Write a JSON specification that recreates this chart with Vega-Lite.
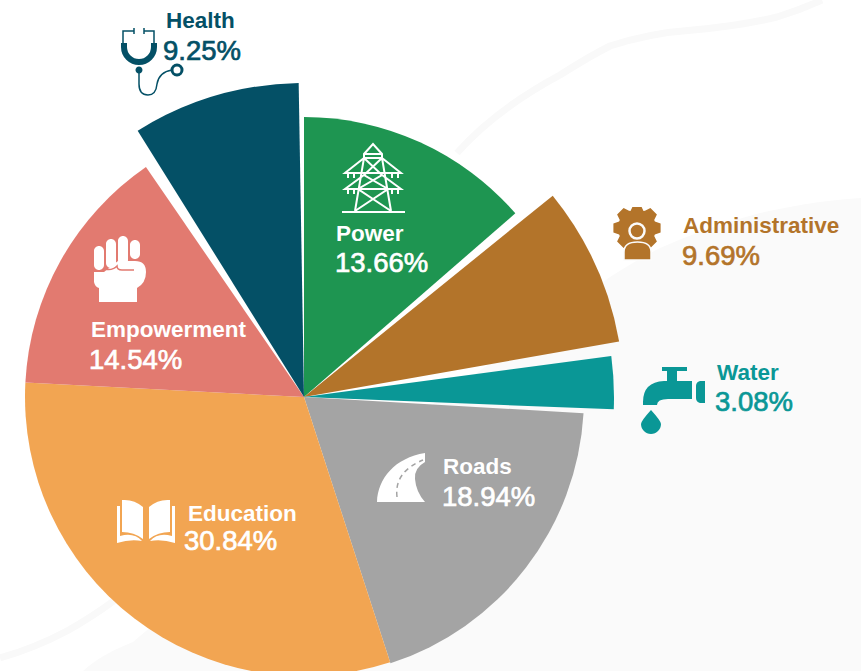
{"$schema":"https://vega.github.io/schema/vega-lite/v6.json","width":861,"height":671,"padding":0,"autosize":"none","background":"#ffffff","config":{"view":{"stroke":null},"text":{"baseline":"alphabetic"}},
"data":{"values":[{"order":1,"name":"Power","share":13.66},{"order":2,"name":"Administrative","share":9.69},{"order":3,"name":"Water","share":3.08},{"order":4,"name":"Roads","share":18.94},{"order":5,"name":"Education","share":30.84},{"order":6,"name":"Empowerment","share":14.54},{"order":7,"name":"Health","share":9.25}]},
"transform":[{"stack":"share","sort":[{"field":"order"}],"as":["s0","s1"]},{"calculate":"format(datum.share,'.2f')+'%'","as":"pct"}],
"encoding":{},
"layer":[
{"transform":[{"filter":"datum.order==1"}],"mark":{"type":"point","x":0,"y":0,"size":4,"filled":true,"opacity":1,"fill":"#fafafa","strokeWidth":0,"shape":"M83 671 Q100 655 133 642 L300 500 L610 277 Q640 258 660 248 Q710 226 760 213 Q820 200 861 198 V671 Z"}},
{"transform":[{"filter":"datum.order==1"}],"mark":{"type":"point","x":0,"y":0,"size":4,"filled":false,"opacity":1,"stroke":"#f9f9f9","strokeWidth":7,"shape":"M457 153 Q495 110 560 75 Q590 56 610 46 Q650 33 693 30 Q740 26 777 17 Q800 10 822 0 M0 658 Q35 648 67 631 Q92 617 115 600"}},
{"transform":[{"filter":"datum.name=='Power'"}],"mark":{"type":"arc","x":304,"y":397,"outerRadius":280,"innerRadius":0,"fill":"#1e9551","thetaOffset":0,"theta2Offset":-0.003},"encoding":{"theta":{"field":"s0","type":"quantitative","scale":{"domain":[0,100],"range":[0,6.283185]}},"theta2":{"field":"s1"}}},
{"transform":[{"filter":"datum.name=='Administrative'"}],"mark":{"type":"arc","x":304,"y":397,"outerRadius":320,"innerRadius":0,"fill":"#b3742a","thetaOffset":0.032,"theta2Offset":-0.071},"encoding":{"theta":{"field":"s0","type":"quantitative","scale":{"domain":[0,100],"range":[0,6.283185]}},"theta2":{"field":"s1"}}},
{"transform":[{"filter":"datum.name=='Water'"}],"mark":{"type":"arc","x":304,"y":397,"outerRadius":310,"innerRadius":0,"fill":"#0a9796","thetaOffset":-0.029,"theta2Offset":-0.05},"encoding":{"theta":{"field":"s0","type":"quantitative","scale":{"domain":[0,100],"range":[0,6.283185]}},"theta2":{"field":"s1"}}},
{"transform":[{"filter":"datum.name=='Roads'"}],"mark":{"type":"arc","x":304,"y":397,"outerRadius":280,"innerRadius":0,"fill":"#a4a4a4","thetaOffset":-0.032,"theta2Offset":-0.023},"encoding":{"theta":{"field":"s0","type":"quantitative","scale":{"domain":[0,100],"range":[0,6.283185]}},"theta2":{"field":"s1"}}},
{"transform":[{"filter":"datum.name=='Education'"}],"mark":{"type":"arc","x":304,"y":397,"outerRadius":279,"innerRadius":0,"fill":"#f2a552","thetaOffset":-0.023,"theta2Offset":-0.024},"encoding":{"theta":{"field":"s0","type":"quantitative","scale":{"domain":[0,100],"range":[0,6.283185]}},"theta2":{"field":"s1"}}},
{"transform":[{"filter":"datum.name=='Empowerment'"}],"mark":{"type":"arc","x":304,"y":397,"outerRadius":279,"innerRadius":0,"fill":"#e27a70","thetaOffset":-0.024,"theta2Offset":-0.021},"encoding":{"theta":{"field":"s0","type":"quantitative","scale":{"domain":[0,100],"range":[0,6.283185]}},"theta2":{"field":"s1"}}},
{"transform":[{"filter":"datum.name=='Health'"}],"mark":{"type":"arc","x":304,"y":397,"outerRadius":314,"innerRadius":0,"fill":"#045066","thetaOffset":0.023,"theta2Offset":-0.017},"encoding":{"theta":{"field":"s0","type":"quantitative","scale":{"domain":[0,100],"range":[0,6.283185]}},"theta2":{"field":"s1"}}},

{"transform":[{"filter":"datum.name=='Health'"}],"mark":{"type":"point","x":0,"y":0,"size":4,"filled":false,"opacity":1,"stroke":"#045066","strokeWidth":1.5,"shape":"M134 28 V34 M134 31 H123 V43 M144 28 V34 M144 31 H154 V43 M139 70 V84 Q139 95 148 95 Q156 95 157 84 Q159 72 172 70"}},
{"transform":[{"filter":"datum.name=='Health'"}],"mark":{"type":"point","x":0,"y":0,"size":4,"filled":false,"opacity":1,"stroke":"#045066","strokeWidth":6,"shape":"M124 43 V47 A15 15 0 0 0 154 47 V43"}},
{"transform":[{"filter":"datum.name=='Health'"}],"mark":{"type":"point","x":0,"y":0,"size":4,"filled":true,"opacity":1,"fill":"#045066","strokeWidth":0,"shape":"M135.5 70 A3.5 3.5 0 1 0 142.5 70 A3.5 3.5 0 1 0 135.5 70 Z"}},
{"transform":[{"filter":"datum.name=='Health'"}],"mark":{"type":"point","x":0,"y":0,"size":4,"filled":false,"opacity":1,"stroke":"#045066","strokeWidth":3,"shape":"M172 70 A5 5 0 1 0 182 70 A5 5 0 1 0 172 70 Z"}},

{"transform":[{"filter":"datum.name=='Power'"}],"mark":{"type":"point","x":0,"y":0,"size":4,"filled":false,"opacity":1,"stroke":"#ffffff","strokeWidth":2,"shape":"M342 212 H405 M355 211 L364 158 V154 L373 144 L382 154 V158 L391 211 M364 154 H382 M364 158 H382 M364 158 L345 173 H401 L382 158 M364 175 L345 189 H401 L382 175 M364 158 L382 175 L358 189 L391 211 M382 158 L364 175 L388 189 L355 211 M348 173 V178 M354 173 V178 M392 173 V178 M398 173 V178 M348 189 V194 M354 189 V194 M392 189 V194 M398 189 V194"}},

{"transform":[{"filter":"datum.name=='Administrative'"}],"mark":{"type":"point","x":0,"y":0,"size":4,"filled":true,"opacity":1,"fill":"#b3742a","strokeWidth":0,"shape":"M630.5 211 L632.4 207 L641.6 207 L643.5 211 L645 210.8 L650.4 208.1 L656.9 214.6 L654.2 220 L654.9 221.5 L660.6 223.4 L660.6 232.6 L654.9 234.5 L654.2 236 L656.9 241.4 L650.4 247.9 L645 245.2 L643.5 245.9 L641.6 251 L632.4 251 L630.5 245.9 L629 245.2 L623.6 247.9 L617.1 241.4 L619.8 236 L619.1 234.5 L613.4 232.6 L613.4 223.4 L619.1 221.5 L619.8 220 L617.1 214.6 L623.6 208.1 L629 210.8 Z"}},
{"transform":[{"filter":"datum.name=='Administrative'"}],"mark":{"type":"point","x":0,"y":0,"size":4,"filled":true,"opacity":1,"fill":"#b3742a","stroke":"#fbfbfb","strokeWidth":2.5,"shape":"M629.5 231 A7.5 7.5 0 1 0 644.5 231 A7.5 7.5 0 1 0 629.5 231 Z"}},
{"transform":[{"filter":"datum.name=='Administrative'"}],"mark":{"type":"point","x":0,"y":0,"size":4,"filled":true,"opacity":1,"fill":"#b3742a","stroke":"#fbfbfb","strokeWidth":1.5,"shape":"M624 260 V252 Q624 242 637.5 242 Q651 242 651 252 V260 Z"}},

{"transform":[{"filter":"datum.name=='Water'"}],"mark":{"type":"point","x":0,"y":0,"size":4,"filled":true,"opacity":1,"fill":"#0a9796","strokeWidth":0,"shape":"M662 367 H687 V371 H677 V381 H692 V399 H668 Q657 399 657 405 H643 V402 Q643 382 664 381 H667 V371 H662 Z M705 381 V403 H700 Q696 402 696 398 V386 Q696 382 700 381 Z M651 410 Q641 421 641 424 A10 10 0 0 0 661 424 Q661 421 651 410 Z"}},

{"transform":[{"filter":"datum.name=='Roads'"}],"mark":{"type":"point","x":0,"y":0,"size":4,"filled":true,"opacity":1,"fill":"#ffffff","strokeWidth":0,"shape":"M377 502 C378 478 395 458 425 453 V462 Q414 468 415 479 Q416 492 425 502 Z"}},
{"transform":[{"filter":"datum.name=='Roads'"}],"mark":{"type":"point","x":0,"y":0,"size":4,"filled":false,"opacity":1,"stroke":"#a4a4a4","strokeWidth":1.5,"strokeDash":[5,4],"shape":"M397 497 Q394 472 423 460"}},

{"transform":[{"filter":"datum.name=='Education'"}],"mark":{"type":"point","x":0,"y":0,"size":4,"filled":true,"opacity":1,"fill":"#ffffff","strokeWidth":0,"shape":"M122 500 Q134 499 143 507 V539 Q134 532 122 532 Z M170 500 Q158 499 149 507 V539 Q158 532 170 532 Z M117 506 H120 V536 Q134 532 142 541 Q130 539 117 543 Z M175 506 H172 V536 Q158 532 150 541 Q162 539 175 543 Z"}},

{"transform":[{"filter":"datum.name=='Empowerment'"}],"mark":{"type":"point","x":0,"y":0,"size":4,"filled":true,"opacity":1,"fill":"#ffffff","strokeWidth":0,"shape":"M94 272 V282 Q95 287 99 288 V302 H137 V288 Q146 283 146 272 Q146 261 135 261 H118 L104 272 Z"}},
{"transform":[{"filter":"datum.name=='Empowerment'"}],"mark":{"type":"point","x":0,"y":0,"size":4,"filled":false,"opacity":1,"stroke":"#e27a70","strokeWidth":1.5,"shape":"M94 270 Q100 273 105 269 Q112 271 117 266 Q117 270 122 270 H134"}},
{"transform":[{"filter":"datum.name=='Empowerment'"}],"mark":{"type":"point","x":0,"y":0,"size":4,"filled":true,"opacity":1,"fill":"#ffffff","strokeWidth":0,"shape":"M94 251 A5 5 0 0 1 104 251 V265 A5 5 0 0 1 94 265 Z M106 244 A5 5 0 0 1 116 244 V263 A5 5 0 0 1 106 263 Z M118 241 A5 5 0 0 1 128 241 V260 A5 5 0 0 1 118 260 Z M130 245 A5 5 0 0 1 140 245 V254 A5 5 0 0 1 130 254 Z"}},

{"transform":[{"filter":"datum.name=='Power'"}],"mark":{"type":"text","x":336,"y":241,"align":"left","baseline":"alphabetic","font":"Liberation Sans","fontWeight":"bold","fontSize":22.5,"fill":"#ffffff"},"encoding":{"text":{"field":"name"}}},
{"transform":[{"filter":"datum.name=='Power'"}],"mark":{"type":"text","x":335,"y":272,"align":"left","baseline":"alphabetic","font":"Liberation Sans","fontSize":27.5,"fill":"#ffffff","stroke":"#ffffff","strokeWidth":0.7},"encoding":{"text":{"field":"pct"}}},
{"transform":[{"filter":"datum.name=='Administrative'"}],"mark":{"type":"text","x":683,"y":233,"align":"left","baseline":"alphabetic","font":"Liberation Sans","fontWeight":"bold","fontSize":22.5,"fill":"#b3742a"},"encoding":{"text":{"field":"name"}}},
{"transform":[{"filter":"datum.name=='Administrative'"}],"mark":{"type":"text","x":682,"y":265,"align":"left","baseline":"alphabetic","font":"Liberation Sans","fontSize":27.5,"fill":"#b3742a","stroke":"#b3742a","strokeWidth":0.7},"encoding":{"text":{"field":"pct"}}},
{"transform":[{"filter":"datum.name=='Water'"}],"mark":{"type":"text","x":717,"y":380,"align":"left","baseline":"alphabetic","font":"Liberation Sans","fontWeight":"bold","fontSize":22.5,"fill":"#0a9796"},"encoding":{"text":{"field":"name"}}},
{"transform":[{"filter":"datum.name=='Water'"}],"mark":{"type":"text","x":715,"y":411,"align":"left","baseline":"alphabetic","font":"Liberation Sans","fontSize":27.5,"fill":"#0a9796","stroke":"#0a9796","strokeWidth":0.7},"encoding":{"text":{"field":"pct"}}},
{"transform":[{"filter":"datum.name=='Roads'"}],"mark":{"type":"text","x":443,"y":474,"align":"left","baseline":"alphabetic","font":"Liberation Sans","fontWeight":"bold","fontSize":22.5,"fill":"#ffffff"},"encoding":{"text":{"field":"name"}}},
{"transform":[{"filter":"datum.name=='Roads'"}],"mark":{"type":"text","x":442,"y":506,"align":"left","baseline":"alphabetic","font":"Liberation Sans","fontSize":27.5,"fill":"#ffffff","stroke":"#ffffff","strokeWidth":0.7},"encoding":{"text":{"field":"pct"}}},
{"transform":[{"filter":"datum.name=='Education'"}],"mark":{"type":"text","x":188,"y":521,"align":"left","baseline":"alphabetic","font":"Liberation Sans","fontWeight":"bold","fontSize":22.5,"fill":"#ffffff"},"encoding":{"text":{"field":"name"}}},
{"transform":[{"filter":"datum.name=='Education'"}],"mark":{"type":"text","x":184,"y":550,"align":"left","baseline":"alphabetic","font":"Liberation Sans","fontSize":27.5,"fill":"#ffffff","stroke":"#ffffff","strokeWidth":0.7},"encoding":{"text":{"field":"pct"}}},
{"transform":[{"filter":"datum.name=='Empowerment'"}],"mark":{"type":"text","x":91,"y":337,"align":"left","baseline":"alphabetic","font":"Liberation Sans","fontWeight":"bold","fontSize":22.5,"fill":"#ffffff"},"encoding":{"text":{"field":"name"}}},
{"transform":[{"filter":"datum.name=='Empowerment'"}],"mark":{"type":"text","x":89,"y":369,"align":"left","baseline":"alphabetic","font":"Liberation Sans","fontSize":27.5,"fill":"#ffffff","stroke":"#ffffff","strokeWidth":0.7},"encoding":{"text":{"field":"pct"}}},
{"transform":[{"filter":"datum.name=='Health'"}],"mark":{"type":"text","x":166,"y":28,"align":"left","baseline":"alphabetic","font":"Liberation Sans","fontWeight":"bold","fontSize":22.5,"fill":"#045066"},"encoding":{"text":{"field":"name"}}},
{"transform":[{"filter":"datum.name=='Health'"}],"mark":{"type":"text","x":163,"y":60,"align":"left","baseline":"alphabetic","font":"Liberation Sans","fontSize":27.5,"fill":"#045066","stroke":"#045066","strokeWidth":0.7},"encoding":{"text":{"field":"pct"}}}
]}
